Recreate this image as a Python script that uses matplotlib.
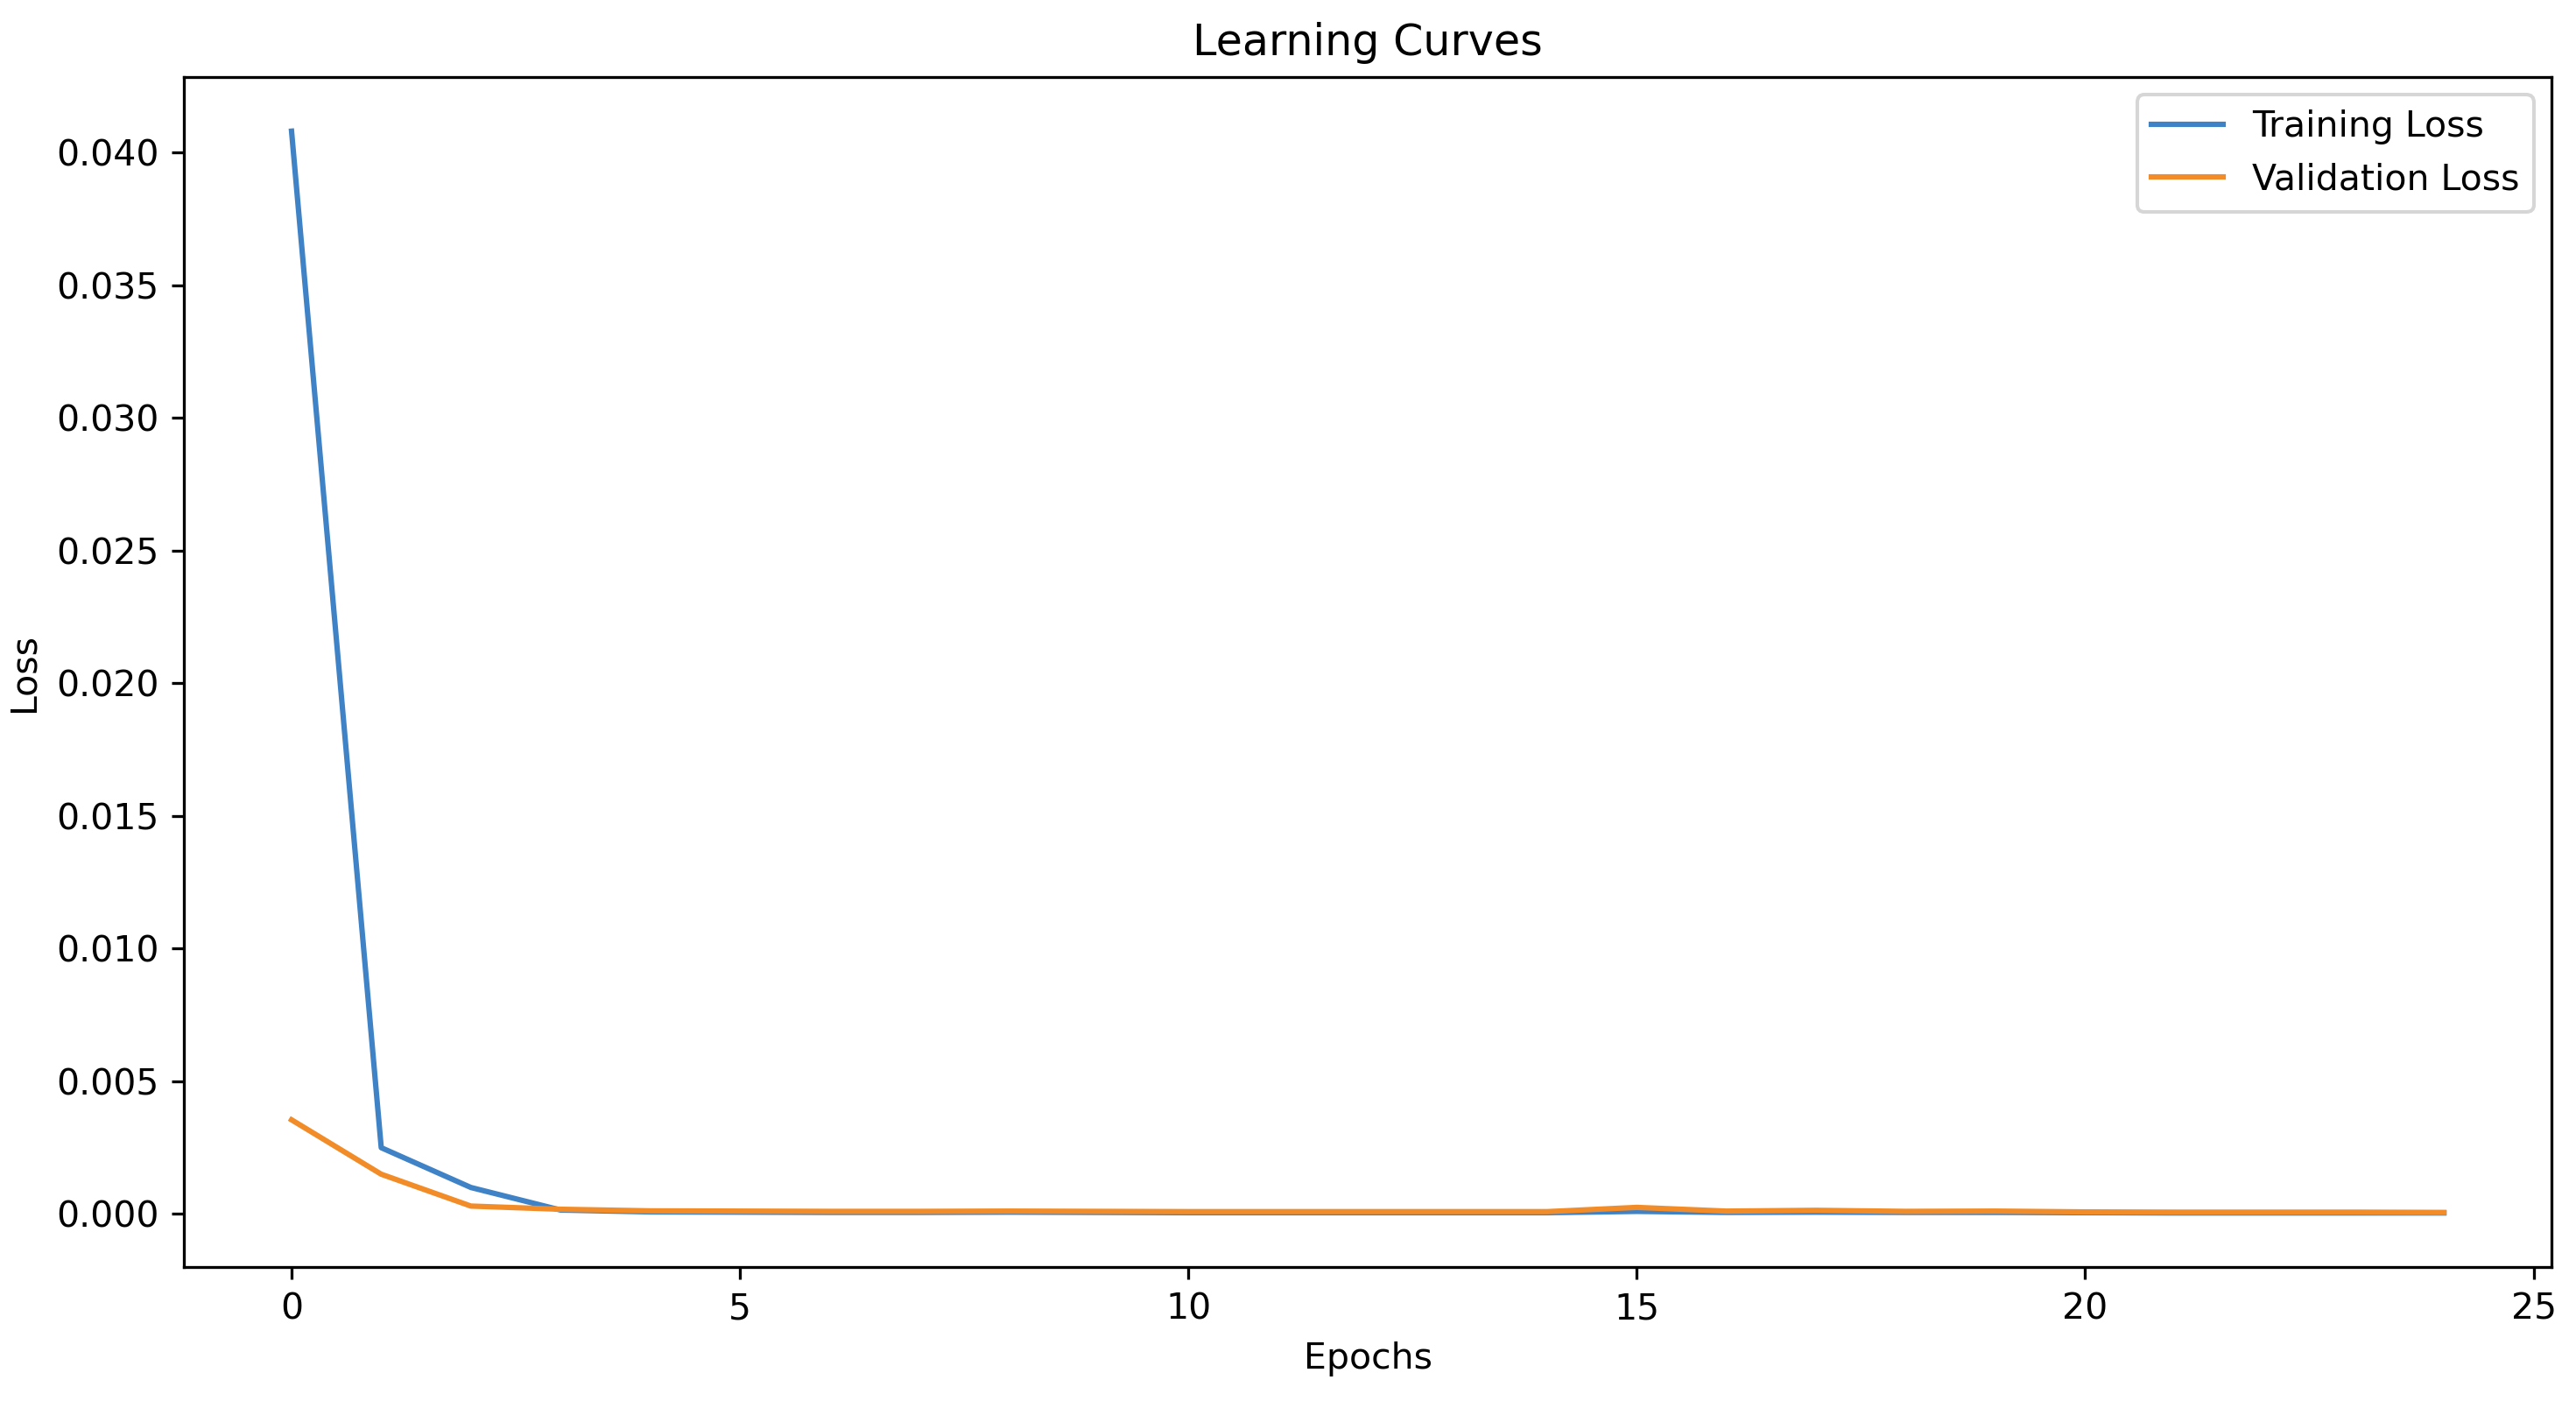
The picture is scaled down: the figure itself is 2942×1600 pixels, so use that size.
import matplotlib
matplotlib.use("Agg")
import matplotlib.pyplot as plt

epochs = list(range(25))
train_loss = [0.0408, 0.00250, 0.00100, 0.00015, 0.00008, 0.00007, 0.00006, 0.00006, 0.00007, 0.00006,
              0.00005, 0.00005, 0.00005, 0.00005, 0.00005, 0.00010, 0.00006, 0.00007, 0.00006, 0.00006,
              0.00005, 0.00004, 0.00004, 0.00004, 0.00004]
val_loss = [0.00355, 0.00150, 0.00030, 0.00018, 0.00012, 0.00011, 0.00010, 0.00010, 0.00011, 0.00010,
            0.00009, 0.00009, 0.00009, 0.00009, 0.00009, 0.00025, 0.00011, 0.00014, 0.00010, 0.00011,
            0.00008, 0.00007, 0.00007, 0.00007, 0.00006]

DPI = 295
fig = plt.figure(figsize=(2942 / DPI, 1600 / DPI), dpi=DPI)
ax = fig.add_axes([0.0714, 0.0956, 0.9191, 0.8494])
ax.plot(epochs, train_loss, color="#3f82c6", label="Training Loss")
ax.plot(epochs, val_loss, color="#f28c28", label="Validation Loss")
ax.set_title("Learning Curves")
ax.set_xlabel("Epochs")
ax.set_ylabel("Loss")
ax.legend(loc="upper right")
fig.savefig("out.png", dpi=DPI)
